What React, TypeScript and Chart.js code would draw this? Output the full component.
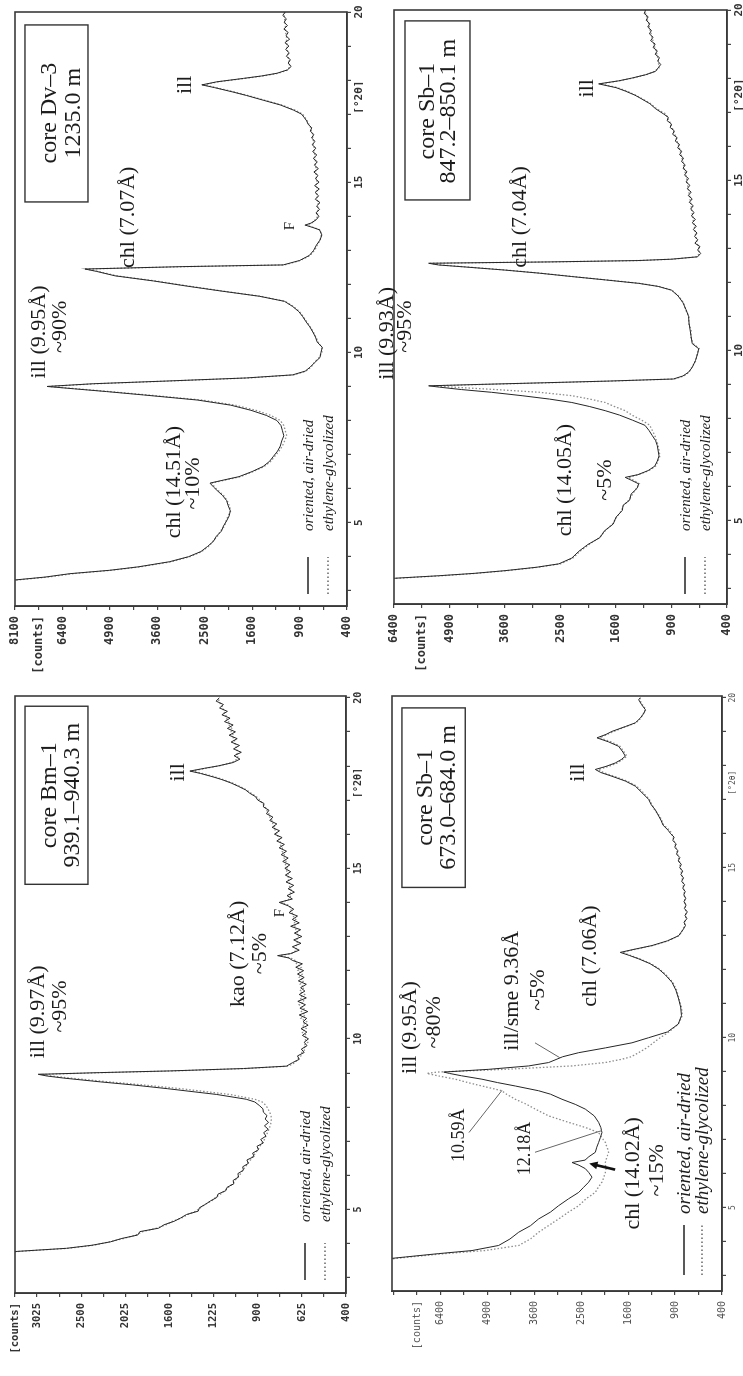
import React, { useEffect, useRef } from "react";
import { Chart, registerables, LinearScale } from "chart.js";

Chart.register(...registerables);

// square-root intensity axis (counts), as used by the diffractometer software
class SqrtScale extends (LinearScale as any) {
  static id = "sqrt";
  static defaults = (LinearScale as any).defaults;
  getPixelForValue(value: any) {
    if (value === null || value === undefined || isNaN(value)) return NaN;
    const a = Math.sqrt(this.min);
    const b = Math.sqrt(this.max);
    return this.getPixelForDecimal((Math.sqrt(Math.max(0, value)) - a) / (b - a));
  }
  getValueForPixel(pixel: number) {
    const a = Math.sqrt(this.min);
    const b = Math.sqrt(this.max);
    const s = a + this.getDecimalForPixel(pixel) * (b - a);
    return s * s;
  }
}
Chart.register(SqrtScale as any);

// ---------------- shared axis data ----------------
const X_TICKS = [3, 4, 5, 6, 7, 8, 9, 10, 11, 12, 13, 14, 15, 16, 17, 17.5, 18, 19, 20];
const X_UNIT_LABEL = "[°2θ]";
const LEGEND_LABELS = ["oriented, air-dried", "ethylene-glycolized"];

// ---------------- panel A : core Dv-3 1235.0 m ----------------
const TT_A = [
  2.55, 3.0, 3.3, 3.4, 3.5, 3.6, 3.7, 3.85, 4.0, 4.15,
  4.3, 4.45, 4.6, 4.75, 4.9, 5.05, 5.2, 5.35, 5.5, 5.65,
  5.8, 5.95, 6.05, 6.16, 6.24, 6.35, 6.5, 6.65, 6.8, 6.95,
  7.1, 7.25, 7.4, 7.55, 7.7, 7.85, 8.0, 8.15, 8.3, 8.45,
  8.6, 8.75, 8.85, 8.93, 9.0, 9.08, 9.16, 9.25, 9.34, 9.45,
  9.57, 9.7, 9.85, 10.0, 10.15, 10.3, 10.45, 10.6, 10.75, 10.9,
  11.05, 11.2, 11.35, 11.5, 11.65, 11.8, 11.95, 12.1, 12.25, 12.38,
  12.45, 12.52, 12.57, 12.7, 12.85, 13.0, 13.15, 13.3, 13.45, 13.6,
  13.67, 13.74, 13.8, 13.9, 14.0, 14.1, 14.2, 14.3, 14.4, 14.5,
  14.6, 14.7, 14.8, 14.9, 15.0, 15.1, 15.2, 15.3, 15.4, 15.5,
  15.6, 15.7, 15.8, 15.9, 16.0, 16.1, 16.2, 16.3, 16.4, 16.5,
  16.6, 16.7, 16.8, 16.9, 17.0, 17.12, 17.27, 17.41, 17.55, 17.65,
  17.78, 17.86, 17.95, 18.05, 18.12, 18.2, 18.3, 18.4, 18.5, 18.6,
  18.7, 18.8, 18.9, 19.0, 19.1, 19.2, 19.3, 19.4, 19.5, 19.6,
  19.7, 19.8, 19.9, 20.0,
];
const AD_A = [
  12000, 10500, 8300, 7000, 6150, 4900, 4100, 3300, 2850, 2580,
  2440, 2320, 2260, 2160, 2120, 2060, 2010, 1990, 2030, 2060,
  2140, 2250, 2320, 2390, 2150, 1830, 1600, 1420, 1320, 1260,
  1200, 1160, 1140, 1110, 1130, 1150, 1210, 1370, 1620, 1980,
  2650, 3950, 5000, 6000, 6930, 5400, 3350, 1700, 990, 830,
  770, 720, 660, 650, 635, 690, 710, 740, 775, 820,
  860, 910, 990, 1100, 1480, 2150, 2900, 3700, 4750, 5300,
  5660, 3000, 1120, 900, 780, 730, 700, 660, 640, 665,
  740, 830, 760, 700, 672, 705, 665, 698, 660, 712,
  675, 715, 668, 720, 670, 710, 682, 728, 678, 722,
  690, 735, 695, 742, 705, 748, 715, 755, 728, 770,
  752, 795, 812, 842, 875, 980, 1160, 1420, 1700, 1940,
  2300, 2560, 2250, 1750, 1450, 1210, 1060, 1010, 1050, 1020,
  1075, 1035, 1085, 1040, 1095, 1030, 1080, 1050, 1110, 1060,
  1105, 1075, 1125, 1090,
];
const EG_A = [
  12000, 10400, 8200, 6900, 6050, 4850, 4050, 3250, 2820, 2560,
  2420, 2330, 2240, 2180, 2100, 2070, 2030, 1980, 2010, 2050,
  2120, 2230, 2300, 2350, 2120, 1800, 1580, 1400, 1300, 1240,
  1180, 1130, 1100, 1070, 1090, 1110, 1160, 1300, 1540, 1900,
  2550, 3850, 4900, 5900, 6880, 5300, 3300, 1650, 970, 820,
  760, 725, 670, 640, 640, 680, 705, 735, 770, 810,
  855, 900, 980, 1090, 1460, 2120, 2850, 3650, 4700, 5250,
  5620, 2900, 1100, 890, 770, 720, 690, 660, 645, 660,
  735, 820, 750, 712, 685, 690, 680, 688, 675, 695,
  690, 700, 685, 705, 690, 702, 698, 712, 700, 715,
  708, 720, 715, 730, 722, 735, 730, 742, 740, 758,
  765, 785, 805, 832, 860, 960, 1140, 1400, 1680, 1910,
  2270, 2520, 2220, 1720, 1420, 1190, 1050, 1035, 1030, 1045,
  1050, 1058, 1060, 1070, 1068, 1075, 1072, 1085, 1088, 1090,
  1095, 1100, 1102, 1100,
];
const Y_TICKS_A = [400, 625, 900, 1225, 1600, 2025, 2500, 3025, 3600, 4225, 4900, 5625, 6400, 7225, 8100];
const Y_LABELS_A = ["400", "", "900", "", "1600", "", "2500", "", "3600", "", "4900", "", "6400", "[counts]", "8100"];

// ---------------- panel B : core Sb-1 847.2-850.1 m ----------------
const TT_B = [
  2.55, 3.0, 3.3, 3.38, 3.45, 3.53, 3.63, 3.73, 3.9, 4.1,
  4.3, 4.5, 4.7, 4.9, 5.1, 5.3, 5.45, 5.6, 5.78, 5.95,
  6.08, 6.18, 6.27, 6.35, 6.47, 6.6, 6.75, 6.9, 7.05, 7.2,
  7.35, 7.5, 7.65, 7.8, 7.95, 8.1, 8.23, 8.35, 8.47, 8.57,
  8.67, 8.77, 8.85, 8.92, 8.96, 9.0, 9.05, 9.1, 9.16, 9.25,
  9.36, 9.5, 9.7, 9.9, 10.05, 10.2, 10.4, 10.6, 10.8, 11.0,
  11.2, 11.4, 11.6, 11.77, 11.88, 11.97, 12.07, 12.17, 12.27, 12.36,
  12.45, 12.51, 12.56, 12.6, 12.64, 12.68, 12.75, 12.85, 12.95, 13.05,
  13.15, 13.25, 13.35, 13.45, 13.55, 13.65, 13.75, 13.85, 13.95, 14.05,
  14.15, 14.25, 14.35, 14.45, 14.55, 14.65, 14.75, 14.85, 14.95, 15.05,
  15.15, 15.25, 15.35, 15.45, 15.55, 15.65, 15.75, 15.85, 15.95, 16.05,
  16.15, 16.25, 16.35, 16.45, 16.55, 16.65, 16.75, 16.85, 16.95, 17.1,
  17.25, 17.4, 17.5, 17.62, 17.72, 17.83, 17.92, 18.0, 18.1, 18.2,
  18.3, 18.4, 18.5, 18.6, 18.7, 18.8, 18.9, 19.0, 19.1, 19.2,
  19.3, 19.4, 19.5, 19.6, 19.7, 19.8, 19.9, 20.0,
];
const AD_B = [
  12000, 9000, 6500, 5180, 4300, 3600, 2950, 2530, 2300, 2180,
  2030, 1840, 1770, 1640, 1600, 1510, 1500, 1410, 1390, 1310,
  1290, 1380, 1470, 1300, 1170, 1090, 1060, 1040, 1050, 1060,
  1080, 1120, 1160, 1210, 1370, 1550, 1760, 2000, 2300, 2700,
  3240, 3900, 4600, 5150, 5440, 4200, 2800, 1700, 880, 780,
  725, 690, 660, 640, 630, 690, 700, 710, 720, 725,
  750, 780, 830, 900, 1050, 1290, 1750, 2300, 2900, 3600,
  4500, 5180, 5440, 2700, 1300, 900, 640, 612, 640, 618,
  665, 638, 668, 645, 680, 652, 690, 660, 698, 672,
  705, 680, 718, 690, 728, 700, 738, 712, 750, 725,
  765, 740, 780, 758, 795, 775, 815, 792, 835, 815,
  860, 840, 888, 870, 915, 900, 948, 935, 990, 1080,
  1150, 1260, 1340, 1470, 1600, 1860, 1560, 1380, 1200, 1080,
  1050, 1020, 1055, 1035, 1085, 1060, 1110, 1085, 1140, 1110,
  1155, 1130, 1175, 1150, 1195, 1170, 1220, 1200,
];
const EG_B = [
  12000, 9000, 6400, 5100, 4250, 3550, 2920, 2500, 2280, 2160,
  2010, 1850, 1760, 1650, 1590, 1520, 1490, 1420, 1370, 1320,
  1280, 1350, 1430, 1290, 1160, 1080, 1050, 1030, 1040, 1050,
  1070, 1090, 1120, 1150, 1250, 1380, 1470, 1620, 1760, 2000,
  2300, 2900, 3800, 4800, 5300, 4100, 2700, 1650, 870, 770,
  720, 695, 655, 645, 625, 680, 705, 700, 725, 720,
  755, 775, 825, 895, 1040, 1280, 1730, 2280, 2880, 3570,
  4450, 5120, 5400, 2650, 1280, 890, 645, 625, 628, 632,
  645, 652, 655, 662, 665, 670, 675, 682, 685, 692,
  695, 702, 705, 712, 715, 722, 728, 735, 738, 745,
  752, 760, 768, 775, 782, 790, 800, 808, 818, 828,
  840, 852, 865, 880, 895, 910, 925, 945, 965, 1070,
  1140, 1250, 1330, 1450, 1580, 1830, 1550, 1370, 1190, 1090,
  1040, 1045, 1048, 1055, 1065, 1075, 1090, 1100, 1112, 1125,
  1135, 1145, 1155, 1165, 1178, 1190, 1200, 1212,
];
const Y_TICKS_B = [400, 625, 900, 1225, 1600, 2025, 2500, 3025, 3600, 4225, 4900, 5625, 6400];
const Y_LABELS_B = ["400", "", "900", "", "1600", "", "2500", "", "3600", "", "4900", "[counts]", "6400"];

// ---------------- panel C : core Bm-1 939.1-940.3 m ----------------
const TT_C = [
  2.55, 3.5, 3.77, 3.86, 3.95, 4.05, 4.15, 4.25, 4.35, 4.45,
  4.55, 4.65, 4.75, 4.85, 4.95, 5.05, 5.15, 5.25, 5.35, 5.45,
  5.55, 5.65, 5.75, 5.85, 5.95, 6.05, 6.15, 6.25, 6.35, 6.45,
  6.55, 6.65, 6.75, 6.85, 6.95, 7.05, 7.15, 7.25, 7.35, 7.45,
  7.55, 7.65, 7.75, 7.85, 7.95, 8.05, 8.15, 8.23, 8.37, 8.54,
  8.65, 8.74, 8.85, 8.91, 8.96, 9.01, 9.06, 9.13, 9.2, 9.3,
  9.4, 9.5, 9.6, 9.7, 9.8, 9.9, 10.0, 10.1, 10.2, 10.3,
  10.4, 10.5, 10.6, 10.7, 10.8, 10.9, 11.0, 11.1, 11.2, 11.3,
  11.4, 11.5, 11.6, 11.7, 11.8, 11.9, 12.0, 12.1, 12.2, 12.3,
  12.37, 12.44, 12.5, 12.6, 12.7, 12.8, 12.9, 13.0, 13.1, 13.2,
  13.3, 13.4, 13.5, 13.6, 13.7, 13.8, 13.9, 14.0, 14.1, 14.2,
  14.3, 14.4, 14.5, 14.6, 14.7, 14.8, 14.9, 15.0, 15.1, 15.2,
  15.3, 15.4, 15.5, 15.6, 15.7, 15.8, 15.9, 16.0, 16.1, 16.2,
  16.3, 16.4, 16.5, 16.6, 16.7, 16.8, 16.9, 17.0, 17.1, 17.2,
  17.3, 17.4, 17.5, 17.6, 17.68, 17.78, 17.85, 17.93, 18.0, 18.1,
  18.2, 18.3, 18.4, 18.5, 18.6, 18.7, 18.8, 18.9, 19.0, 19.1,
  19.2, 19.3, 19.4, 19.5, 19.6, 19.7, 19.8, 19.9, 20.0,
];
const AD_C = [
  6000, 4500, 3280, 2670, 2380, 2180, 2060, 1900, 1880, 1700,
  1650, 1560, 1500, 1450, 1350, 1340, 1290, 1250, 1200, 1190,
  1130, 1120, 1070, 1075, 1035, 1040, 1000, 1005, 965, 975,
  925, 935, 895, 905, 862, 880, 845, 860, 830, 855,
  828, 850, 838, 862, 865, 890, 920, 980, 1200, 1620,
  1950, 2290, 2700, 2900, 3010, 2300, 1600, 1000, 715, 680,
  640, 650, 612, 628, 596, 612, 588, 622, 597, 630,
  590, 618, 598, 640, 592, 636, 605, 648, 600, 640,
  608, 632, 600, 645, 612, 650, 615, 660, 622, 680,
  700, 770, 690, 640, 680, 630, 672, 625, 668, 632,
  690, 640, 680, 650, 700, 672, 705, 760, 680, 712,
  668, 705, 672, 718, 680, 722, 690, 725, 695, 738,
  705, 748, 715, 760, 728, 775, 742, 790, 758, 805,
  775, 820, 800, 842, 825, 862, 858, 900, 915, 955,
  985, 1035, 1090, 1160, 1230, 1330, 1420, 1300, 1190, 1075,
  1025, 1068, 1015, 1072, 1028, 1090, 1045, 1105, 1058, 1118,
  1075, 1140, 1098, 1160, 1118, 1178, 1148, 1205, 1180,
];
const EG_C = [
  6000, 4500, 3250, 2650, 2360, 2190, 2040, 1920, 1850, 1720,
  1630, 1575, 1490, 1440, 1370, 1330, 1295, 1240, 1210, 1170,
  1140, 1110, 1080, 1060, 1040, 1020, 1005, 985, 970, 950,
  935, 915, 900, 885, 870, 855, 845, 835, 825, 818,
  812, 810, 812, 820, 832, 845, 870, 920, 1100, 1500,
  1850, 2200, 2620, 2850, 2950, 2250, 1560, 980, 705, 665,
  650, 630, 625, 605, 615, 592, 610, 598, 625, 600,
  622, 598, 630, 605, 628, 610, 640, 612, 636, 610,
  638, 612, 635, 615, 640, 622, 648, 628, 655, 665,
  690, 755, 685, 655, 662, 650, 655, 645, 650, 660,
  665, 668, 660, 675, 682, 690, 695, 745, 698, 690,
  692, 688, 700, 695, 708, 700, 715, 710, 722, 718,
  730, 728, 742, 740, 755, 752, 768, 770, 785, 788,
  800, 805, 820, 825, 840, 850, 870, 885, 910, 945,
  980, 1025, 1080, 1150, 1215, 1315, 1400, 1290, 1185, 1085,
  1045, 1040, 1050, 1045, 1060, 1058, 1075, 1072, 1090, 1085,
  1105, 1108, 1125, 1130, 1148, 1150, 1170, 1180, 1195,
];
const Y_TICKS_C = [400, 506.25, 625, 756.25, 900, 1056.25, 1225, 1406.25, 1600, 1806.25, 2025, 2256.25, 2500, 2756.25, 3025, 3306.25];
const Y_LABELS_C = ["400", "", "625", "", "900", "", "1225", "", "1600", "", "2025", "", "2500", "", "3025", "[counts]"];

// ---------------- panel D : core Sb-1 673.0-684.0 m ----------------
const TT_D = [
  2.55, 3.4, 3.5, 3.55, 3.65, 3.74, 3.89, 4.08, 4.28, 4.47,
  4.67, 4.87, 5.06, 5.26, 5.45, 5.6, 5.75, 5.9, 6.04, 6.15,
  6.25, 6.33, 6.4, 6.5, 6.63, 6.78, 6.92, 7.06, 7.21, 7.36,
  7.51, 7.7, 7.9, 8.04, 8.19, 8.34, 8.44, 8.58, 8.68, 8.78,
  8.88, 8.95, 8.99, 9.07, 9.17, 9.27, 9.37, 9.44, 9.56, 9.7,
  9.85, 10.0, 10.17, 10.4, 10.65, 10.9, 11.14, 11.4, 11.63, 11.85,
  12.02, 12.18, 12.32, 12.42, 12.51, 12.6, 12.71, 12.85, 13.0, 13.1,
  13.2, 13.3, 13.4, 13.5, 13.6, 13.7, 13.8, 13.9, 14.0, 14.1,
  14.2, 14.3, 14.4, 14.5, 14.6, 14.7, 14.8, 14.9, 15.0, 15.1,
  15.2, 15.3, 15.4, 15.5, 15.6, 15.7, 15.8, 15.9, 16.0, 16.1,
  16.25, 16.4, 16.52, 16.7, 16.85, 17.01, 17.2, 17.4, 17.55, 17.69,
  17.8, 17.89, 17.98, 18.08, 18.18, 18.28, 18.4, 18.57, 18.7, 18.82,
  18.92, 19.01, 19.15, 19.26, 19.4, 19.55, 19.65, 19.8, 19.94, 20.0,
];
const AD_D = [
  14000, 9500, 8300, 7660, 6460, 5370, 4570, 4250, 4010, 3700,
  3490, 3200, 3005, 2780, 2555, 2450, 2345, 2276, 2345, 2414,
  2550, 2700, 2420, 2340, 2209, 2180, 2143, 2110, 2078, 2100,
  2143, 2230, 2414, 2629, 2927, 3200, 3491, 4103, 4600, 5064,
  5700, 6100, 6290, 4864, 3745, 3242, 3044, 2912, 2555, 2013,
  1536, 1270, 1000, 860, 820, 830, 855, 890, 940, 1030,
  1122, 1250, 1426, 1580, 1737, 1500, 1220, 1000, 855, 825,
  795, 772, 790, 755, 778, 750, 785, 765, 790, 768,
  792, 775, 805, 782, 818, 795, 828, 805, 842, 822,
  860, 840, 882, 862, 905, 885, 930, 912, 958, 990,
  1060, 1090, 1122, 1170, 1230, 1270, 1370, 1481, 1650, 1888,
  2100, 2209, 2000, 1828, 1720, 1649, 1690, 1766, 1950, 2176,
  2000, 1888, 1650, 1481, 1400, 1340, 1321, 1380, 1426, 1400,
];
const EG_D = [
  14000, 9300, 8100, 7500, 6240, 4970, 4010, 3700, 3490, 3250,
  3005, 2780, 2555, 2400, 2210, 2150, 2080, 2040, 2013, 2000,
  2010, 2013, 2000, 1980, 1950, 1980, 2013, 2080, 2143, 2414,
  2776, 3242, 3575, 3800, 4103, 4350, 4476, 5064, 5500, 5906,
  6500, 6871, 6500, 4381, 2702, 2013, 1700, 1550, 1426, 1300,
  1200, 1100, 980, 860, 810, 820, 850, 880, 930, 1020,
  1110, 1240, 1410, 1560, 1700, 1480, 1210, 990, 850, 818,
  800, 782, 775, 770, 765, 768, 772, 775, 778, 782,
  785, 790, 795, 800, 806, 812, 818, 825, 832, 840,
  848, 858, 868, 878, 890, 900, 915, 928, 942, 970,
  1050, 1080, 1110, 1180, 1220, 1260, 1350, 1460, 1620, 1850,
  2050, 2150, 1950, 1790, 1700, 1620, 1670, 1740, 1900, 2120,
  1980, 1850, 1640, 1470, 1390, 1350, 1310, 1370, 1410, 1400,
];
const Y_TICKS_D = [400, 625, 900, 1225, 1600, 2025, 2500, 3025, 3600, 4225, 4900, 5625, 6400, 7225, 8100];
const Y_LABELS_D = ["400", "", "900", "", "1600", "", "2500", "", "3600", "", "4900", "", "6400", "[counts]", ""];

// ---------------- annotations (data coordinates: x = °2θ, y = counts) ----------------
const NOTES_A = [
  { text: "ill (9.95Å)", x: 10.6, y: 7215 },
  { text: "~90%", x: 10.75, y: 6482 },
  { text: "chl (7.07Å)", x: 13.97, y: 4365 },
  { text: "F", x: 13.71, y: 1025, size: 15 },
  { text: "ill", x: 17.86, y: 2933 },
  { text: "chl (14.51Å)", x: 6.19, y: 3189 },
  { text: "~10%", x: 6.15, y: 2753 },
];
const BOX_A = { x0: 14.42, x1: 19.62, y0: 5567, y1: 7726, xc: 17.03, lines: ["core Dv–3", "1235.0 m"], ys: [6826, 6015] };

const NOTES_B = [
  { text: "ill (9.93Å)", x: 10.5, y: 6603 },
  { text: "~95%", x: 10.7, y: 6087 },
  { text: "chl (7.04Å)", x: 13.92, y: 3283 },
  { text: "ill", x: 17.7, y: 2046 },
  { text: "chl (14.05Å)", x: 6.19, y: 2420 },
  { text: "~5%", x: 6.19, y: 1762 },
];
const BOX_B = { x0: 14.42, x1: 19.68, y0: 4397, y1: 6087, xc: 17.03, lines: ["core Sb–1", "847.2–850.1 m"], ys: [5457, 4913] };

const NOTES_C = [
  { text: "ill (9.97Å)", x: 10.79, y: 3013 },
  { text: "~95%", x: 10.95, y: 2746 },
  { text: "kao (7.12Å)", x: 12.49, y: 1039 },
  { text: "~5%", x: 12.5, y: 885 },
  { text: "F", x: 13.69, y: 755, size: 15 },
  { text: "ill", x: 17.81, y: 1521 },
];
const BOX_C = { x0: 14.53, x1: 19.75, y0: 2424, y1: 3177, xc: 17.14, lines: ["core Bm–1", "939.1–940.3 m"], ys: [2866, 2594] };

const NOTES_D = [
  { text: "ill (9.95Å)", x: 10.3, y: 7482 },
  { text: "~80%", x: 10.45, y: 6624 },
  { text: "ill/sme 9.36Å", x: 11.38, y: 4195 },
  { text: "~5%", x: 11.4, y: 3507 },
  { text: "chl (7.06Å)", x: 12.4, y: 2317 },
  { text: "ill", x: 17.8, y: 2570 },
  { text: "10.59Å", x: 7.13, y: 5785, size: 18 },
  { text: "12.18Å", x: 6.74, y: 3844, size: 18 },
  { text: "chl (14.02Å)", x: 6.01, y: 1519 },
  { text: "~15%", x: 6.1, y: 1146 },
];
const BOX_D = { x0: 14.42, x1: 19.7, y0: 5583, y1: 7782, xc: 17.07, lines: ["core Sb–1", "673.0–684.0 m"], ys: [6906, 6115] };
const LINES_D = [
  { x0: 7.21, y0: 5466, x1: 8.45, y1: 4476 },
  { x0: 6.63, y0: 3583, x1: 7.27, y1: 2078 },
  { x0: 9.85, y0: 3583, x1: 9.41, y1: 2974 },
];
const ARROWS_D = [{ x0: 6.12, y0: 1830, x1: 6.3, y1: 2330 }];

// ---------------- panel layout (unrotated canvas W x H, then turned 90° ccw) ----------------
const PANELS: any[] = [
  {
    key: "A", left: 0, top: 0, W: 688, H: 372, area: { l: 82, r: 676, t: 15, b: 347 },
    tt: TT_A, ad: AD_A, eg: EG_A, xMin: 2.55, xMax: 20, yMin: 400, yMax: 8100,
    yTicks: Y_TICKS_A, yLabels: Y_LABELS_A, yFont: 12, xFont: 11, tickWeight: "bold", tickColor: "#333",
    notes: NOTES_A, box: BOX_A, lines: [], arrows: [],
    legend: { r1: 39, r2: 19, s0: 12, s1: 49, tx: 75, size: 15 },
  },
  {
    key: "B", left: 372, top: 0, W: 688, H: 371, area: { l: 84, r: 678, t: 22, b: 355 },
    tt: TT_B, ad: AD_B, eg: EG_B, xMin: 2.55, xMax: 20, yMin: 400, yMax: 6400,
    yTicks: Y_TICKS_B, yLabels: Y_LABELS_B, yFont: 12, xFont: 11, tickWeight: "bold", tickColor: "#333",
    notes: NOTES_B, box: BOX_B, lines: [], arrows: [],
    legend: { r1: 42, r2: 22, s0: 10, s1: 47, tx: 73, size: 15 },
  },
  {
    key: "C", left: 0, top: 688, W: 688, H: 372, area: { l: 83, r: 680, t: 15, b: 346 },
    tt: TT_C, ad: AD_C, eg: EG_C, xMin: 2.55, xMax: 20.05, yMin: 400, yMax: 3306.25,
    yTicks: Y_TICKS_C, yLabels: Y_LABELS_C, yFont: 10.5, xFont: 10, tickWeight: "bold", tickColor: "#333",
    notes: NOTES_C, box: BOX_C, lines: [], arrows: [],
    legend: { r1: 41, r2: 21, s0: 13, s1: 50, tx: 71, size: 15 },
  },
  {
    key: "D", left: 372, top: 688, W: 688, H: 371, area: { l: 85, r: 680, t: 20, b: 350 },
    tt: TT_D, ad: AD_D, eg: EG_D, xMin: 2.55, xMax: 20.05, yMin: 400, yMax: 8160,
    yTicks: Y_TICKS_D, yLabels: Y_LABELS_D, yFont: 10, xFont: 8, tickWeight: "normal", tickColor: "#555",
    notes: NOTES_D, box: BOX_D, lines: LINES_D, arrows: ARROWS_D,
    legend: { r1: 38, r2: 20, s0: 16, s1: 66, tx: 77, size: 19 },
  },
];

const SERIF = '"Liberation Serif", "Times New Roman", serif';
const MONO = '"DejaVu Sans Mono", monospace';

function notesPlugin(p: any) {
  return {
    id: "notes" + p.key,
    afterDraw(chart: any) {
      const { ctx, chartArea: a } = chart;
      const sx = chart.scales.x;
      const sy = chart.scales.y;
      const px = (v: number) => sx.getPixelForValue(v);
      const py = (v: number) => sy.getPixelForValue(v);
      ctx.save();
      // plot frame
      ctx.strokeStyle = "#3a3a3a";
      ctx.lineWidth = 1.6;
      ctx.strokeRect(a.left, a.top, a.right - a.left, a.bottom - a.top);

      // title box
      const b = p.box;
      const bx0 = px(b.x0), bx1 = px(b.x1), by0 = py(b.y0), by1 = py(b.y1);
      ctx.lineWidth = 1.4;
      ctx.strokeStyle = "#333";
      ctx.strokeRect(Math.min(bx0, bx1), Math.min(by0, by1), Math.abs(bx1 - bx0), Math.abs(by1 - by0));
      ctx.fillStyle = "#1c1c1c";
      ctx.textAlign = "center";
      ctx.textBaseline = "middle";
      ctx.font = `24px ${SERIF}`;
      b.lines.forEach((t: string, i: number) => ctx.fillText(t, px(b.xc), py(b.ys[i])));

      // peak labels
      for (const n of p.notes) {
        ctx.font = `${n.size || 22}px ${SERIF}`;
        ctx.fillText(n.text, px(n.x), py(n.y));
      }

      // pointer lines
      ctx.strokeStyle = "#666";
      ctx.lineWidth = 1;
      for (const l of p.lines) {
        ctx.beginPath();
        ctx.moveTo(px(l.x0), py(l.y0));
        ctx.lineTo(px(l.x1), py(l.y1));
        ctx.stroke();
      }
      // arrows
      ctx.strokeStyle = "#111";
      ctx.fillStyle = "#111";
      for (const r of p.arrows) {
        const x0 = px(r.x0), y0 = py(r.y0), x1 = px(r.x1), y1 = py(r.y1);
        const ang = Math.atan2(y1 - y0, x1 - x0);
        const hl = 9;
        ctx.lineWidth = 2.6;
        ctx.beginPath();
        ctx.moveTo(x0, y0);
        ctx.lineTo(x1 - Math.cos(ang) * hl * 0.8, y1 - Math.sin(ang) * hl * 0.8);
        ctx.stroke();
        ctx.beginPath();
        ctx.moveTo(x1, y1);
        ctx.lineTo(x1 - hl * Math.cos(ang - 0.45), y1 - hl * Math.sin(ang - 0.45));
        ctx.lineTo(x1 - hl * Math.cos(ang + 0.45), y1 - hl * Math.sin(ang + 0.45));
        ctx.closePath();
        ctx.fill();
      }

      // legend
      const lg = p.legend;
      const r1 = a.bottom - lg.r1;
      const r2 = a.bottom - lg.r2;
      ctx.strokeStyle = "#222";
      ctx.lineWidth = 1.6;
      ctx.beginPath();
      ctx.moveTo(a.left + lg.s0, r1);
      ctx.lineTo(a.left + lg.s1, r1);
      ctx.stroke();
      ctx.strokeStyle = "#666";
      ctx.lineWidth = 1.3;
      ctx.setLineDash([1.5, 2.5]);
      ctx.beginPath();
      ctx.moveTo(a.left + lg.s0, r2);
      ctx.lineTo(a.left + lg.s1, r2);
      ctx.stroke();
      ctx.setLineDash([]);
      ctx.fillStyle = "#1c1c1c";
      ctx.textAlign = "left";
      ctx.font = `italic ${lg.size}px ${SERIF}`;
      ctx.fillText(LEGEND_LABELS[0], a.left + lg.tx, r1 + 1);
      ctx.fillText(LEGEND_LABELS[1], a.left + lg.tx, r2 + 1);
      ctx.restore();
    },
  };
}

function buildConfig(p: any): any {
  const pts = (xs: number[], ys: number[]) => xs.map((x, i) => ({ x, y: ys[i] }));
  const tickColor = "#444";
  return {
    type: "line",
    data: {
      datasets: [
        {
          label: LEGEND_LABELS[0],
          data: pts(p.tt, p.ad),
          borderColor: "#262626",
          borderWidth: 1,
          pointRadius: 0,
          tension: 0,
          fill: false,
        },
        {
          label: LEGEND_LABELS[1],
          data: pts(p.tt, p.eg),
          borderColor: "#8c8c8c",
          borderWidth: 1.3,
          borderDash: [1.5, 2],
          pointRadius: 0,
          tension: 0,
          fill: false,
        },
      ],
    },
    options: {
      responsive: false,
      animation: false,
      devicePixelRatio: 1,
      events: [],
      layout: {
        padding: { left: 0, top: p.area.t, right: p.W - p.area.r, bottom: p.H - p.area.b - 16 },
      },
      plugins: { legend: { display: false }, tooltip: { enabled: false } },
      scales: {
        x: {
          type: "linear",
          min: p.xMin,
          max: p.xMax,
          bounds: "data",
          afterBuildTicks: (s: any) => {
            s.ticks = X_TICKS.map((v) => ({ value: v }));
          },
          afterFit: (s: any) => {
            s.height = 16;
          },
          ticks: {
            autoSkip: false,
            maxRotation: 0,
            minRotation: 0,
            padding: 2,
            color: p.tickColor,
            font: { family: MONO, size: p.xFont, weight: p.tickWeight },
            callback: (v: number) => (v === 17.5 ? X_UNIT_LABEL : v % 5 === 0 ? String(v) : ""),
          },
          grid: {
            display: true,
            drawOnChartArea: false,
            drawTicks: true,
            tickLength: 4,
            lineWidth: 1.2,
            color: (c: any) => (c.tick && c.tick.value === 17.5 ? "rgba(0,0,0,0)" : tickColor),
          },
          border: { display: true, color: "#3a3a3a", width: 1.6 },
        },
        y: {
          type: "sqrt",
          min: p.yMin,
          max: p.yMax,
          bounds: "data",
          afterBuildTicks: (s: any) => {
            s.ticks = p.yTicks.map((v: number) => ({ value: v }));
          },
          afterFit: (s: any) => {
            s.width = p.area.l;
          },
          ticks: {
            autoSkip: false,
            padding: 6,
            color: p.tickColor,
            font: { family: MONO, size: p.yFont, weight: p.tickWeight },
            callback: (_v: number, i: number) => p.yLabels[i],
          },
          grid: {
            display: true,
            drawOnChartArea: false,
            drawTicks: true,
            tickLength: 4,
            lineWidth: 1.2,
            color: tickColor,
          },
          border: { display: true, color: "#3a3a3a", width: 1.6 },
        },
      },
    },
    plugins: [notesPlugin(p)],
  };
}

function Panel({ p }: { p: any }) {
  const ref = useRef<HTMLCanvasElement | null>(null);
  useEffect(() => {
    if (!ref.current) return;
    const chart = new Chart(ref.current, buildConfig(p));
    return () => chart.destroy();
  }, [p]);
  return (
    <div
      style={{
        position: "absolute",
        left: p.left,
        top: p.top,
        width: p.H,
        height: p.W,
        overflow: "hidden",
      }}
    >
      <canvas
        ref={ref}
        width={p.W}
        height={p.H}
        style={{
          position: "absolute",
          left: 0,
          top: 0,
          width: p.W,
          height: p.H,
          transformOrigin: "0 0",
          transform: `translateY(${p.W}px) rotate(-90deg)`,
        }}
      />
    </div>
  );
}

export default function App() {
  return (
    <div
      style={{
        position: "absolute",
        left: 0,
        top: 0,
        width: 743,
        height: 1376,
        overflow: "hidden",
        background: "#ffffff",
      }}
    >
      {PANELS.map((p) => (
        <Panel key={p.key} p={p} />
      ))}
    </div>
  );
}
